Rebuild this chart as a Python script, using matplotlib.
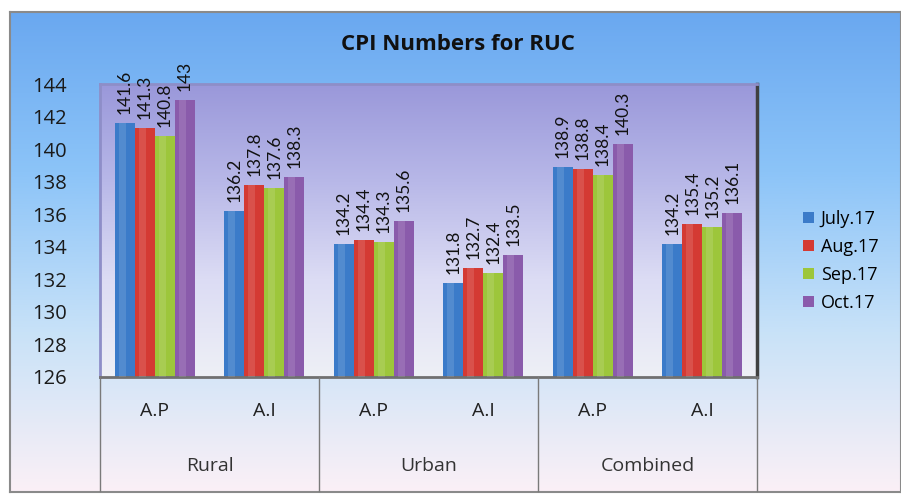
import numpy as np
import matplotlib.pyplot as plt
from matplotlib.colors import LinearSegmentedColormap

plt.rcParams['font.family'] = ['Open Sans', 'DejaVu Sans']

groups = ['Rural', 'Urban', 'Combined']
cats = ['A.P', 'A.I', 'A.P', 'A.I', 'A.P', 'A.I']
months = ['July.17', 'Aug.17', 'Sep.17', 'Oct.17']
july = [141.6, 136.2, 134.2, 131.8, 138.9, 134.2]
aug = [141.3, 137.8, 134.4, 132.7, 138.8, 135.4]
sep = [140.8, 137.6, 134.3, 132.4, 138.4, 135.2]
octo = [143, 138.3, 135.6, 133.5, 140.3, 136.1]
series = [july, aug, sep, octo]
colors = ['#3b7bc9', '#d43a33', '#9dc63b', '#8a5bab']

fig = plt.figure(figsize=(9.01, 4.96), dpi=100)

# chart background
bg = fig.add_axes([10/901, 4/496, 891/901, 480/496])
bgcm = LinearSegmentedColormap.from_list('bg', ['#fbf0f6', '#c8e2f8', '#8cc4f8', '#6aa8f0'])
bg.imshow(np.linspace(0, 1, 256).reshape(-1, 1), cmap=bgcm, aspect='auto',
          origin='lower', extent=[0, 1, 0, 1])
bg.set_xlim(0, 1)
bg.set_ylim(0, 1)
bg.set_xticks([])
bg.set_yticks([])
for s in bg.spines.values():
    s.set_color('#8a8a8a')
    s.set_linewidth(1.5)
bg.set_zorder(0)

ax = fig.add_axes([100/901, 1 - 377/496, 657/901, (377 - 84)/496])
ax.set_zorder(1)
pcm = LinearSegmentedColormap.from_list('pa', ['#eef0f6', '#dcdcf4', '#b8b8e8', '#9a98da'])
ax.imshow(np.linspace(0, 1, 256).reshape(-1, 1), cmap=pcm, aspect='auto',
          origin='lower', extent=[-0.5, 5.5, 126, 144], zorder=0)

x = np.arange(len(cats))
w = 0.183
for i, (vals, c) in enumerate(zip(series, colors)):
    pos = x + (i - 1.5) * w
    ax.bar(pos, np.array(vals) - 126, w, bottom=126, color=c,
           edgecolor='none', label=months[i], zorder=2)
    # light highlight to suggest the rounded bar
    ax.bar(pos - w * 0.12, np.array(vals) - 126, w * 0.35, bottom=126,
           color='white', alpha=0.12, edgecolor='none', zorder=3)
    for p, v in zip(pos, vals):
        ax.text(p, v + 0.55, f'{v:g}', rotation=90, ha='center', va='bottom',
                fontsize=12.5, color='#111111', zorder=4,
                family=['Lato', 'DejaVu Sans'])

ax.set_xlim(-0.5, 5.5)
ax.set_ylim(126, 144)
ax.set_yticks(np.arange(126, 145, 2))
ax.tick_params(axis='y', length=0, labelsize=14.5, pad=24, labelcolor='#1a1a1a')
ax.set_xticks([])
for s in ['top', 'left']:
    ax.spines[s].set_color('#8e8ec8')
    ax.spines[s].set_linewidth(2)
ax.spines['right'].set_color('#404040')
ax.spines['right'].set_linewidth(2.5)
ax.spines['bottom'].set_color('#707070')
ax.spines['bottom'].set_linewidth(2)

# two-level category axis
tr = ax.get_xaxis_transform()
for xi, lab in zip(x, cats):
    ax.text(xi, -0.115, lab, transform=tr, ha='center', va='center',
            fontsize=14, color='#222222')
for gi, g in enumerate(groups):
    ax.text(2 * gi + 0.5, -0.305, g, transform=tr, ha='center', va='center',
            fontsize=14, color='#333333')
for b in [-0.5, 1.5, 3.5, 5.5]:
    ax.plot([b, b], [0, -0.39], transform=tr, color='#7a7a7a', lw=1,
            clip_on=False, zorder=5)

fig.text(458/901, 1 - 45/496, 'CPI Numbers for RUC', ha='center', va='center',
         fontsize=16, fontweight='bold', color='#111111')

ax.legend(loc='center left', bbox_to_anchor=(1.045, 0.396), frameon=False,
          fontsize=13, handlelength=0.6, handleheight=0.6, labelspacing=0.55,
          handletextpad=0.4)

fig.savefig('out.png', dpi=100)
